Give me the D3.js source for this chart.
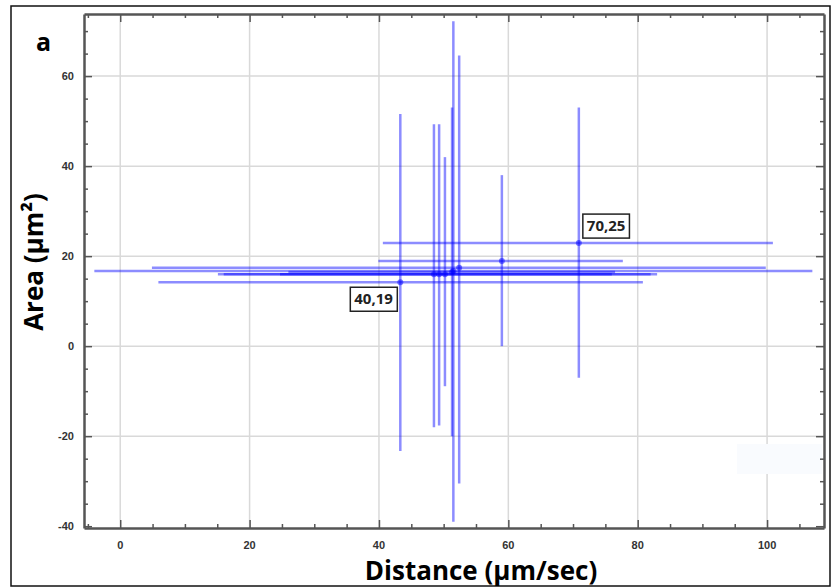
<!DOCTYPE html>
<html>
<head>
<meta charset="utf-8">
<script src="https://cdn.jsdelivr.net/npm/d3@7"></script>
<style>
  body { margin: 0; background: #fff; }
  svg { display: block; }
  .tick-label { font-family: "Liberation Sans", Arial, sans-serif; font-size: 11px; font-weight: bold; fill: #333; }
  .axis-title { font-family: "Open Sans", sans-serif; font-weight: bold; font-size: 26px; fill: #000; }
</style>
</head>
<body>
<svg class="chart" width="831" height="588"></svg>
<script>
// point centres (Distance, Area)
var ptX = [43.3, 48.5, 49.3, 50.2, 51.3, 51.5, 52.4, 59.0, 70.9];
var ptY = [14.2, 16.0, 16.0, 16.0, 16.5, 16.7, 17.4, 18.9, 22.9];
// error bar ends
var xLow  = [5.9, 15.1, 16.0, 24.7, 26.0, -4.0, 4.9, 39.9, 40.6];
var xHigh = [80.8, 82.0, 83.0, 76.0, 76.5, 107.0, 99.8, 77.7, 100.9];
var yLow  = [-23.3, -18.0, -17.6, -8.9, -20.0, -39.0, -30.5, 0.0, -7.0];
var yHigh = [51.6, 49.3, 49.3, 42.0, 53.0, 72.2, 64.6, 38.0, 53.0];

var xTicks = [0, 20, 40, 60, 80, 100];
var yTicks = [-40, -20, 0, 20, 40, 60];
var annoText = ["40,19", "70,25"];
var annoIdx = [0, 8];

var margin = { left: 84, right: 824, top: 14, bottom: 528 };

var xScale = d3.scaleLinear().domain([-5.6, 108.8]).range([margin.left, margin.right]);
var yScale = d3.scaleLinear().domain([-40.4, 73.8]).range([margin.bottom, margin.top]);

var svg = d3.select(".chart");

var data = ptX.map(function (d, i) {
    return { x: d, y: ptY[i], x0: xLow[i], x1: xHigh[i], y0: yLow[i], y1: yHigh[i] };
});

// outer frame
svg.append("rect")
    .attr("x", 11).attr("y", 6)
    .attr("width", 819).attr("height", 580)
    .attr("fill", "none")
    .attr("stroke", "#111")
    .attr("stroke-width", 1.5);

// grid
var grid = svg.append("g");
grid.selectAll(".gx").data(xTicks).enter().append("line")
    .attr("x1", function (d) { return xScale(d); })
    .attr("x2", function (d) { return xScale(d); })
    .attr("y1", margin.top).attr("y2", margin.bottom)
    .attr("stroke", "#d9d9d9").attr("stroke-width", 1.5);
grid.selectAll(".gy").data(yTicks.slice(1)).enter().append("line")
    .attr("y1", function (d) { return yScale(d); })
    .attr("y2", function (d) { return yScale(d); })
    .attr("x1", margin.left).attr("x2", margin.right)
    .attr("stroke", "#d9d9d9").attr("stroke-width", 1.5);

// faint watermark patch, lower right
svg.append("rect")
    .attr("x", 737).attr("y", 444)
    .attr("width", 85).attr("height", 30)
    .attr("fill", "#f9fbfe");

// axes on all four sides, ticks pointing inward
var minorX = d3.range(-5, 110, 5);
var minorY = d3.range(-40, 75, 5);

function drawAxis(axis, transform, minor, major) {
    var g = svg.append("g").attr("transform", transform);
    g.call(axis.tickValues(minor).tickFormat("").tickSizeOuter(0));
    g.selectAll(".tick line")
        .attr("stroke", "#555")
        .attr("stroke-width", 1.5)
        .each(function (d) {
            var isMajor = major.indexOf(d) != -1;
            var el = d3.select(this);
            if (el.attr("y2") != null && +el.attr("y2") != 0) {
                el.attr("y2", (+el.attr("y2") > 0 ? 1 : -1) * (isMajor ? 8 : 4));
            } else {
                el.attr("x2", (+el.attr("x2") > 0 ? 1 : -1) * (isMajor ? 8 : 4));
            }
        });
    g.select(".domain").attr("stroke", "#555").attr("stroke-width", 2.5);
    return g;
}

drawAxis(d3.axisTop(xScale), "translate(0," + margin.bottom + ")", minorX, xTicks);
drawAxis(d3.axisBottom(xScale), "translate(0," + margin.top + ")", minorX, xTicks);
drawAxis(d3.axisRight(yScale), "translate(" + margin.left + ",0)", minorY, yTicks);
drawAxis(d3.axisLeft(yScale), "translate(" + margin.right + ",0)", minorY, yTicks);

// tick labels
svg.selectAll(".xl").data(xTicks).enter().append("text")
    .attr("class", "tick-label")
    .attr("x", function (d) { return xScale(d); })
    .attr("y", 549)
    .attr("text-anchor", "middle")
    .text(function (d) { return d; });

svg.selectAll(".yl").data(yTicks).enter().append("text")
    .attr("class", "tick-label")
    .attr("x", 74)
    .attr("y", function (d) { return yScale(d) + 4; })
    .attr("text-anchor", "end")
    .text(function (d) { return d; });

// error bars
var bars = svg.append("g")
    .attr("stroke", "#0000ff")
    .attr("stroke-opacity", 0.45);

bars.selectAll(".hbar").data(data).enter().append("line")
    .attr("x1", function (d) { return xScale(d.x0); })
    .attr("x2", function (d) { return xScale(d.x1); })
    .attr("y1", function (d) { return yScale(d.y); })
    .attr("y2", function (d) { return yScale(d.y); })
    .attr("stroke-width", 2.5);

bars.selectAll(".vbar").data(data).enter().append("line")
    .attr("x1", function (d) { return xScale(d.x); })
    .attr("x2", function (d) { return xScale(d.x); })
    .attr("y1", function (d) { return yScale(d.y0); })
    .attr("y2", function (d) { return yScale(d.y1); })
    .attr("stroke-width", 2.5);

svg.append("g").selectAll("circle").data(data).enter().append("circle")
    .attr("cx", function (d) { return xScale(d.x); })
    .attr("cy", function (d) { return yScale(d.y); })
    .attr("r", 3)
    .attr("fill", "#0000ff")
    .attr("fill-opacity", 0.5);

// annotation boxes
annoIdx.forEach(function (idx, k) {
    var p = data[idx];
    var px = xScale(p.x), py = yScale(p.y);
    var g = svg.append("g");
    var t = g.append("text")
        .attr("font-family", "Open Sans, sans-serif")
        .attr("font-weight", "bold")
        .attr("font-size", 15)
        .attr("fill", "#222")
        .text(annoText[k]);
    var bb = t.node().getBBox();
    var w = bb.width + 8, h = 24;
    var bx = k == 0 ? px - 3 - w : px + 4;
    var by = k == 0 ? py + 5 : py - 5 - h;
    g.insert("rect", "text")
        .attr("x", bx).attr("y", by)
        .attr("width", w).attr("height", h)
        .attr("fill", "#fff")
        .attr("stroke", "#222")
        .attr("stroke-width", 1.5);
    t.attr("x", bx + 4).attr("y", by + 17);
});

// titles
svg.append("text")
    .attr("x", 36).attr("y", 51)
    .attr("font-family", "Open Sans, sans-serif")
    .attr("font-weight", "bold")
    .attr("font-size", 25)
    .text("a");

svg.append("text")
    .attr("class", "axis-title")
    .attr("x", 481).attr("y", 580)
    .attr("text-anchor", "middle")
    .text("Distance (µm/sec)");

svg.append("text")
    .attr("class", "axis-title")
    .attr("transform", "translate(43,262) rotate(-90)")
    .attr("text-anchor", "middle")
    .text("Area (µm²)");
</script>
</body>
</html>
